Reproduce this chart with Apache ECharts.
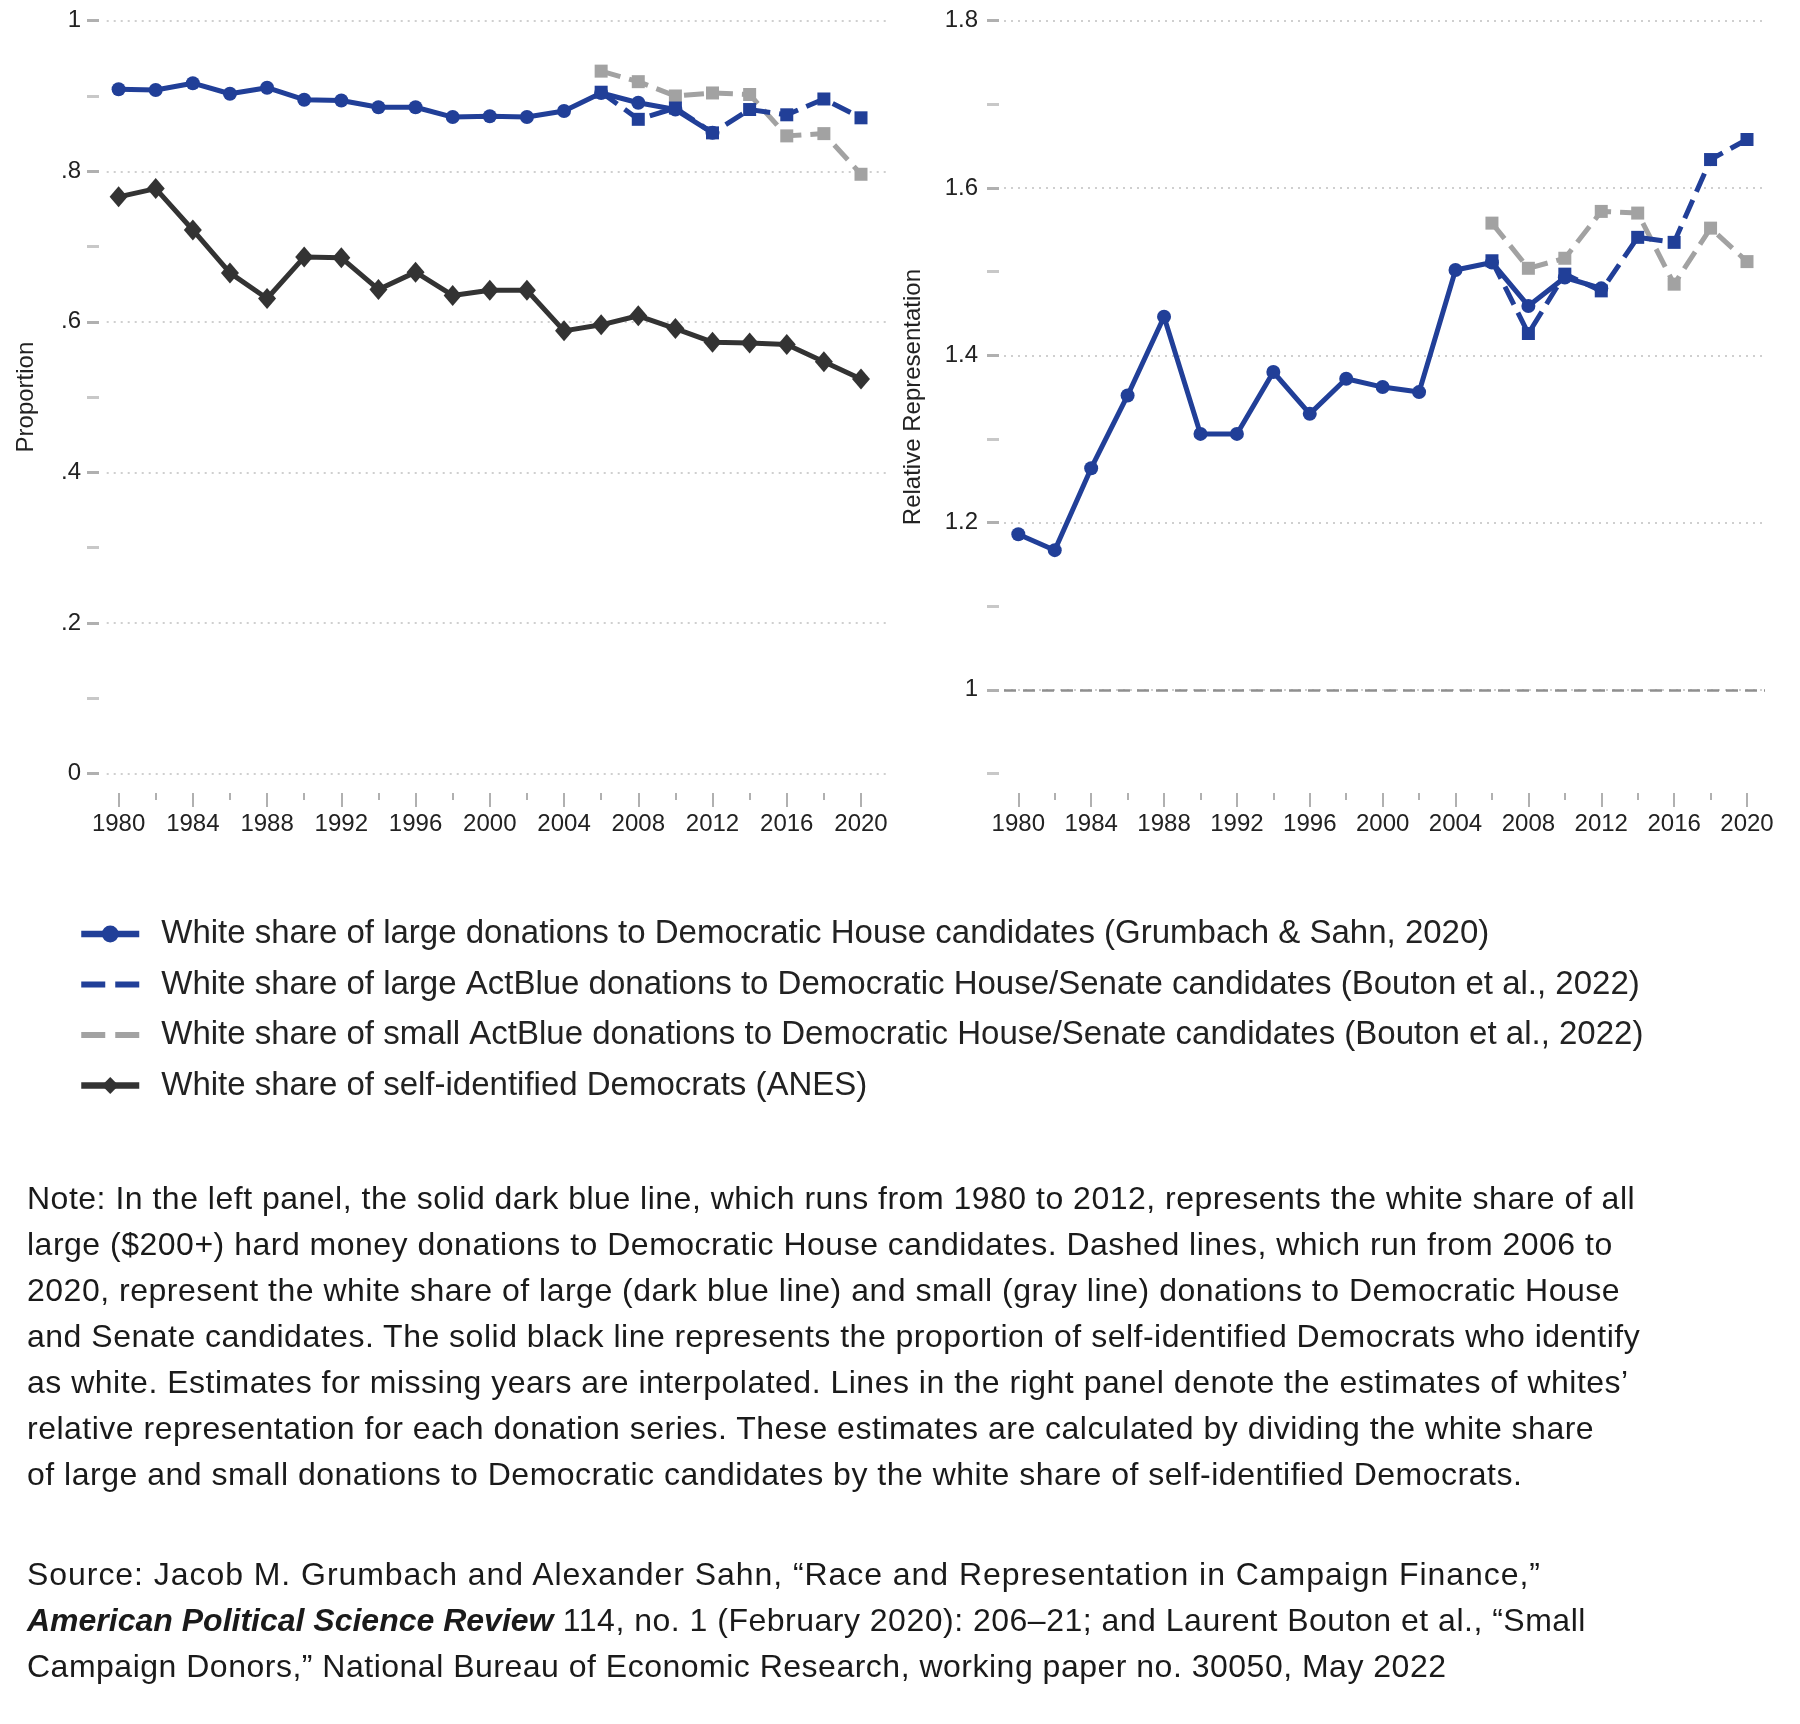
<!DOCTYPE html>
<html>
<head>
<meta charset="utf-8">
<script src="https://cdn.jsdelivr.net/npm/echarts@6/dist/echarts.min.js"></script>
<style>
  html, body { margin: 0; padding: 0; background: #ffffff; }
  #chart { position: absolute; left: 0; top: 0; width: 1800px; height: 1724px; }
  .txt { position: absolute; left: 27px; font-family: "Liberation Sans", Arial, Helvetica, sans-serif; color: #1a1a1a; white-space: nowrap; font-size: 32px; letter-spacing: 0.5px; line-height: 46px; }
  .txt div { white-space: nowrap; }
  .journal { font-style: italic; font-weight: bold; letter-spacing: 0; }
  .wide { letter-spacing: 0.95px; }
</style>
</head>
<body>
<div id="chart"></div>
<div class="txt" id="note" style="top:1175px;"></div>
<div class="txt" id="source" style="top:1551px;"></div>
<script>
// ---------------- data ----------------
const yearsAll = [1980, 1982, 1984, 1986, 1988, 1990, 1992, 1994, 1996, 1998, 2000, 2002, 2004, 2006, 2008, 2010, 2012, 2014, 2016, 2018, 2020];
const yearsSolid = [1980, 1982, 1984, 1986, 1988, 1990, 1992, 1994, 1996, 1998, 2000, 2002, 2004, 2006, 2008, 2010, 2012];
const yearsActBlue = [2006, 2008, 2010, 2012, 2014, 2016, 2018, 2020];

// Left panel: proportions
const leftLargeHouse = [0.909, 0.908, 0.917, 0.903, 0.911, 0.895, 0.894, 0.885, 0.885, 0.872, 0.873, 0.872, 0.880, 0.904, 0.891, 0.882, 0.851];
const leftLargeActBlue = [0.905, 0.869, 0.884, 0.851, 0.882, 0.875, 0.896, 0.871];
const leftSmallActBlue = [0.933, 0.919, 0.900, 0.904, 0.902, 0.847, 0.850, 0.796];
const leftAnes = [0.766, 0.777, 0.722, 0.665, 0.631, 0.686, 0.685, 0.643, 0.666, 0.635, 0.642, 0.642, 0.588, 0.596, 0.608, 0.591, 0.573, 0.572, 0.570, 0.547, 0.524];

// Right panel: relative representation
const rightLargeHouse = [1.186, 1.167, 1.265, 1.352, 1.446, 1.306, 1.306, 1.380, 1.330, 1.372, 1.362, 1.356, 1.502, 1.511, 1.459, 1.493, 1.480];
const rightLargeActBlue = [1.513, 1.426, 1.497, 1.477, 1.541, 1.535, 1.634, 1.658];
const rightSmallActBlue = [1.558, 1.504, 1.516, 1.572, 1.570, 1.485, 1.552, 1.512];
const referenceLine = 1;

// Tick values / labels
const xMajorYears = [1980, 1984, 1988, 1992, 1996, 2000, 2004, 2008, 2012, 2016, 2020];
const xMinorYears = [1982, 1986, 1990, 1994, 1998, 2002, 2006, 2010, 2014, 2018];
const leftYTickValues = [0, 0.2, 0.4, 0.6, 0.8, 1];
const leftYTickLabels = ['0', '.2', '.4', '.6', '.8', '1'];
const leftYMinorValues = [0.1, 0.3, 0.5, 0.7, 0.9];
const rightYTickValues = [1, 1.2, 1.4, 1.6, 1.8];
const rightYTickLabels = ['1', '1.2', '1.4', '1.6', '1.8'];
const rightYMinorValues = [0.9, 1.1, 1.3, 1.5, 1.7];

const seriesNames = [
  'White share of large donations to Democratic House candidates (Grumbach & Sahn, 2020)',
  'White share of large ActBlue donations to Democratic House/Senate candidates (Bouton et al., 2022)',
  'White share of small ActBlue donations to Democratic House/Senate candidates (Bouton et al., 2022)',
  'White share of self-identified Democrats (ANES)'
];
const leftAxisTitle = 'Proportion';
const rightAxisTitle = 'Relative Representation';

const noteLines = [
  'Note: In the left panel, the solid dark blue line, which runs from 1980 to 2012, represents the white share of all',
  'large ($200+) hard money donations to Democratic House candidates. Dashed lines, which run from 2006 to',
  '2020, represent the white share of large (dark blue line) and small (gray line) donations to Democratic House',
  'and Senate candidates. The solid black line represents the proportion of self-identified Democrats who identify',
  'as white. Estimates for missing years are interpolated. Lines in the right panel denote the estimates of whites\u2019',
  'relative representation for each donation series. These estimates are calculated by dividing the white share',
  'of large and small donations to Democratic candidates by the white share of self-identified Democrats.'
];
const sourceLine1 = 'Source: Jacob M. Grumbach and Alexander Sahn, \u201cRace and Representation in Campaign Finance,\u201d';
const sourceJournal = 'American Political Science Review';
const sourceLine2Rest = ' 114, no. 1 (February 2020): 206\u201321; and Laurent Bouton et al., \u201cSmall';
const sourceLine3 = 'Campaign Donors,\u201d National Bureau of Economic Research, working paper no. 30050, May 2022';

// ---------------- styling ----------------
const BLUE = '#213f98';
const GRAY = '#a2a2a2';
const BLACK = '#333333';
const FONT = '"Liberation Sans", Arial, Helvetica, sans-serif';
const TICK_COLOR = '#b0b0b0';
const GRID_COLOR = '#cfcfcf';
const DASH = [20, 9];
const LW = 5;

const pairs = (xs, ys) => xs.map((x, i) => [x, ys[i]]);

function labelFor(values, labels) {
  return function (v) {
    for (let i = 0; i < values.length; i++) {
      if (Math.abs(values[i] - v) < 1e-6) return labels[i];
    }
    return '';
  };
}

const GRID_TOP = 20.7;
const GRID_H = 752.8;
const TICK_ROW_TOP = 790;   // tick row grid: its bottom edge is where x ticks start
const LEFT = { left: 106.7, width: 779.3, min: 1979.359, max: 2021.347 };
const RIGHT = { left: 1004, width: 761, min: 1979.215, max: 2020.988 };

function plotXAxis(gridIndex, p) {
  return { gridIndex, type: 'value', position: 'bottom', min: p.min, max: p.max, show: false,
    axisLine: { onZero: false } };
}
function tickXAxes(gridIndex, p) {
  return [
    {
      gridIndex, type: 'value', position: 'bottom', min: p.min, max: p.max,
      axisLine: { show: false, onZero: false },
      axisTick: { show: true, customValues: xMajorYears, length: 14, lineStyle: { color: TICK_COLOR, width: 2 } },
      axisLabel: { show: true, customValues: xMajorYears, margin: 19, fontSize: 24, fontFamily: FONT, color: '#222',
        formatter: v => String(v) },
      splitLine: { show: false }
    },
    {
      gridIndex, type: 'value', position: 'bottom', min: p.min, max: p.max,
      axisLine: { show: false, onZero: false },
      axisTick: { show: true, customValues: xMinorYears, length: 7, lineStyle: { color: TICK_COLOR, width: 2 } },
      axisLabel: { show: false },
      splitLine: { show: false }
    }
  ];
}

function yAxes(gridIndex, min, max, majorVals, majorLabels, minorVals, offset, name, nameGap, labelMargin) {
  return [
    {
      gridIndex, type: 'value', position: 'left', min, max, offset,
      name, nameLocation: 'middle', nameRotate: 90, nameGap,
      nameTextStyle: { fontSize: 24, fontFamily: FONT, color: '#222' },
      axisLine: { show: false, onZero: false },
      axisTick: { show: true, customValues: majorVals, length: 12, lineStyle: { color: TICK_COLOR, width: 3 } },
      axisLabel: { show: true, customValues: majorVals, margin: labelMargin, fontSize: 24, fontFamily: FONT, color: '#222',
        formatter: labelFor(majorVals, majorLabels) },
      splitLine: { show: true, lineStyle: { color: GRID_COLOR, width: 2, type: [2, 5] } }
    },
    {
      gridIndex, type: 'value', position: 'left', min, max, offset,
      axisLine: { show: false, onZero: false },
      axisTick: { show: true, customValues: minorVals, length: 12, lineStyle: { color: '#c8c8c8', width: 3 } },
      axisLabel: { show: false },
      splitLine: { show: false }
    }
  ];
}

function lineSeries(name, xi, yi, data, color, symbol, symbolSize, dashed, z) {
  return {
    name, type: 'line', xAxisIndex: xi, yAxisIndex: yi, data,
    symbol, symbolSize, showSymbol: true, z,
    lineStyle: { color, width: LW, type: dashed ? DASH : 'solid' },
    itemStyle: { color },
    emphasis: { disabled: true }
  };
}

const dashIcon = 'path://M0,0H24V6H0Z M34,0H58V6H34Z';

const option = {
  animation: false,
  backgroundColor: '#ffffff',
  grid: [
    { left: LEFT.left, top: GRID_TOP, width: LEFT.width, height: GRID_H },
    { left: RIGHT.left, top: GRID_TOP, width: RIGHT.width, height: GRID_H },
    { left: LEFT.left, top: TICK_ROW_TOP, width: LEFT.width, height: 3 },
    { left: RIGHT.left, top: TICK_ROW_TOP, width: RIGHT.width, height: 3 }
  ],
  xAxis: [plotXAxis(0, LEFT), plotXAxis(1, RIGHT)].concat(tickXAxes(2, LEFT), tickXAxes(3, RIGHT)),
  yAxis: [].concat(
    yAxes(0, 0, 1, leftYTickValues, leftYTickLabels, leftYMinorValues, 7.7, leftAxisTitle, 61, 18),
    yAxes(1, 0.9, 1.8, rightYTickValues, rightYTickLabels, rightYMinorValues, 5, rightAxisTitle, 74, 21),
    [{ gridIndex: 2, type: 'value', show: false }, { gridIndex: 3, type: 'value', show: false }]
  ),
  legend: {
    orient: 'vertical', left: 78, top: 917.5, padding: 0,
    itemWidth: 58, itemHeight: 21, itemGap: 17.5,
    selectedMode: false,
    textStyle: { fontSize: 33, fontFamily: FONT, color: '#222', padding: [0, 0, 0, 17] },
    lineStyle: { width: 6.5 },
    data: [
      { name: seriesNames[0] },
      { name: seriesNames[1], icon: dashIcon },
      { name: seriesNames[2], icon: dashIcon },
      { name: seriesNames[3] }
    ]
  },
  series: [
    lineSeries(seriesNames[0], 0, 0, pairs(yearsSolid, leftLargeHouse), BLUE, 'circle', 14, false, 3),
    lineSeries(seriesNames[2], 0, 0, pairs(yearsActBlue, leftSmallActBlue), GRAY, 'rect', 13, true, 2),
    lineSeries(seriesNames[1], 0, 0, pairs(yearsActBlue, leftLargeActBlue), BLUE, 'rect', 13, true, 4),
    lineSeries(seriesNames[3], 0, 0, pairs(yearsAll, leftAnes), BLACK, 'diamond', [18, 21], false, 3),
    Object.assign(lineSeries(seriesNames[0], 1, 2, pairs(yearsSolid, rightLargeHouse), BLUE, 'circle', 14, false, 3), {
      markLine: {
        silent: true, symbol: ['none', 'none'], label: { show: false },
        lineStyle: { color: '#8f8f8f', width: 2.5, type: [12, 7] },
        data: [{ yAxis: referenceLine }]
      }
    }),
    lineSeries(seriesNames[2], 1, 2, pairs(yearsActBlue, rightSmallActBlue), GRAY, 'rect', 13, true, 2),
    lineSeries(seriesNames[1], 1, 2, pairs(yearsActBlue, rightLargeActBlue), BLUE, 'rect', 13, true, 4)
  ]
};

const chart = echarts.init(document.getElementById('chart'), null, { renderer: 'canvas', width: 1800, height: 1724 });
chart.setOption(option);

// ---------------- note & source text ----------------
const noteEl = document.getElementById('note');
noteLines.forEach(t => { const d = document.createElement('div'); d.textContent = t; noteEl.appendChild(d); });
const srcEl = document.getElementById('source');
const s1 = document.createElement('div'); s1.className = 'wide'; s1.textContent = sourceLine1; srcEl.appendChild(s1);
const s2 = document.createElement('div');
const sj = document.createElement('span'); sj.className = 'journal'; sj.textContent = sourceJournal;
s2.appendChild(sj); s2.appendChild(document.createTextNode(sourceLine2Rest)); srcEl.appendChild(s2);
const s3 = document.createElement('div'); s3.textContent = sourceLine3; srcEl.appendChild(s3);
</script>
</body>
</html>
